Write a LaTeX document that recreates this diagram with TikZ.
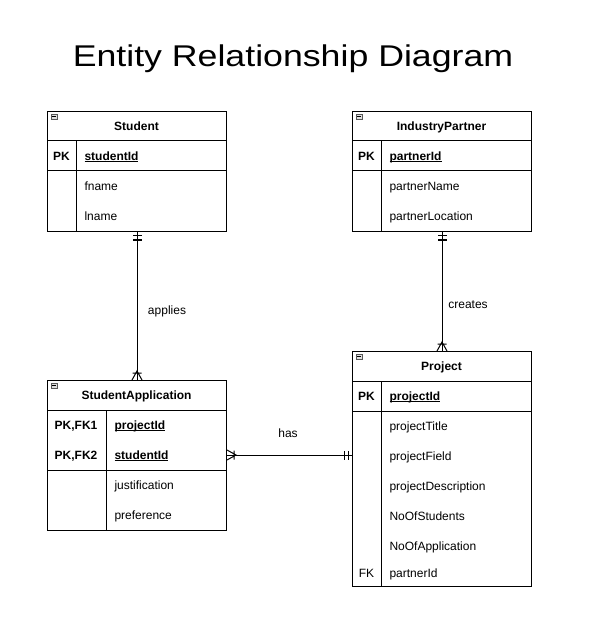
\documentclass[tikz,border=0pt]{standalone}
\usepackage{fontspec}
\usepackage{graphicx}
\setmainfont{Liberation Sans}
\usetikzlibrary{calc}
\newcommand\keyul[1]{\underline{\smash{#1}}}

\begin{document}
\begin{tikzpicture}[x=1pt,y=-1pt,line width=1pt]
	\tikzset{
		tbl/.style={draw,inner sep=0pt,anchor=north west,minimum width=179pt},
		txt/.style={inner sep=0pt,text height=10.9pt,text depth=2.5pt,font=\fontsize{12}{14}\selectfont},
		hdr/.style={txt,font=\fontsize{12}{14}\selectfont\bfseries},
		attr/.style={txt,anchor=west},
		keyattr/.style={hdr,anchor=west},
		fold/.pic={
			\draw[line width=0.6pt,draw=gray!70!black,fill=gray!25] (0,0) rectangle (6,5);
			\draw[line width=0.8pt] (1.2,2.5) -- (4.8,2.5);
		},
		mandone/.pic={\draw (4,-4.5) -- (4,4.5) (8,-4.5) -- (8,4.5);},
		onemany/.pic={\draw (0,-5) -- (9,0) -- (0,5) (7,-4.5) -- (7,4.5);}
	}
	\useasboundingbox (0,0) rectangle (597,617);
	\node[font=\fontsize{30}{36}\selectfont,anchor=base] (title) at (293,66.7) {\scalebox{1.19}[1]{Entity Relationship Diagram}};
	% Student
	\node[tbl,minimum height=120pt] (student) at (47,111) {};
	\draw (47,141) -- (226,141);
	\draw (47,171) -- (226,171);
	\draw (76,141) -- (76,231);
	\pic at (51,114) {fold};
	\node[hdr] (studentT) at (136.5,126) {Student};
	\node[hdr] (studentPK) at (61.5,156) {PK};
	\node[keyattr] (studentId) at (84,156) {\keyul{studentId}};
	\node[attr] (fname) at (84,186) {fname};
	\node[attr] (lname) at (84,216) {lname};
	% IndustryPartner
	\node[tbl,minimum height=120pt] (partner) at (352,111) {};
	\draw (352,141) -- (531,141);
	\draw (352,171) -- (531,171);
	\draw (381,141) -- (381,231);
	\pic at (356,114) {fold};
	\node[hdr] (partnerT) at (441.5,126) {IndustryPartner};
	\node[hdr] (partnerPK) at (366.5,156) {PK};
	\node[keyattr] (partnerId) at (389,156) {\keyul{partnerId}};
	\node[attr] (partnerName) at (389,186) {partnerName};
	\node[attr] (partnerLocation) at (389,216) {partnerLocation};
	% StudentApplication
	\node[tbl,minimum height=150pt] (studapp) at (47,380) {};
	\draw (47,410) -- (226,410);
	\draw (47,470) -- (226,470);
	\draw (106,410) -- (106,530);
	\pic at (51,383) {fold};
	\node[hdr] (studappT) at (136.5,395) {StudentApplication};
	\node[hdr] (studappPK1) at (76,425) {PK,FK1};
	\node[hdr] (studappPK2) at (76,455) {PK,FK2};
	\node[keyattr] (saProjectId) at (114,425) {\keyul{projectId}};
	\node[keyattr] (saStudentId) at (114,455) {\keyul{studentId}};
	\node[attr] (justification) at (114,485) {justification};
	\node[attr] (preference) at (114,515) {preference};
	% Project
	\node[tbl,minimum height=235pt] (project) at (352,351) {};
	\draw (352,381) -- (531,381);
	\draw (352,411) -- (531,411);
	\draw (381,381) -- (381,586);
	\pic at (356,354) {fold};
	\node[hdr] (projectT) at (441.5,366) {Project};
	\node[hdr] (projectPK) at (366.5,396) {PK};
	\node[keyattr] (projectId) at (389,396) {\keyul{projectId}};
	\node[attr] (projectTitle) at (389,426) {projectTitle};
	\node[attr] (projectField) at (389,456) {projectField};
	\node[attr] (projectDescription) at (389,486) {projectDescription};
	\node[attr] (noStudents) at (389,516) {NoOfStudents};
	\node[attr] (noApplication) at (389,546) {NoOfApplication};
	\node[txt] (projectFK) at (366.5,573) {FK};
	\node[attr] (projPartnerId) at (389,573) {partnerId};
	% relationships
	\draw (student.south) -- (studapp.north);
	\pic[rotate=-90] at (student.south) {mandone};
	\pic[rotate=90] at (studapp.north) {onemany};
	\node[txt] (applies) at (167,310) {applies};
	\draw (partner.south) -- (project.north);
	\pic[rotate=-90] at (partner.south) {mandone};
	\pic[rotate=90] at (project.north) {onemany};
	\node[txt] (creates) at (468,304) {creates};
	\coordinate (hasL) at (studapp.east |- saStudentId.west);
	\coordinate (hasR) at (project.west |- saStudentId.west);
	\draw (hasL) -- (hasR);
	\pic at (hasL) {onemany};
	\pic[rotate=180] at (hasR) {mandone};
	\node[txt] (has) at (288,433) {has};
\end{tikzpicture}
\end{document}
